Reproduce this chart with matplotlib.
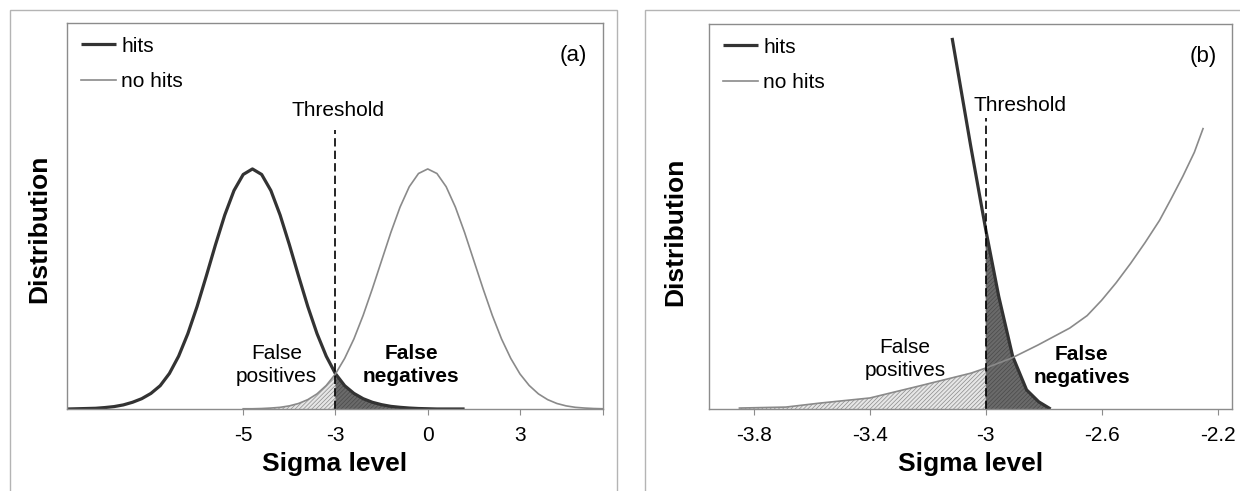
import matplotlib
matplotlib.use("Agg")
import matplotlib.pyplot as plt
from matplotlib.patches import Rectangle
import numpy as np

plt.rcParams['font.family'] = ['Liberation Sans', 'DejaVu Sans']
plt.rcParams['hatch.linewidth'] = 0.5

# ---- panel (a): category-style axis, one unit per labelled tick ----
hits_a_pos = [-1.9, -1.8, -1.7, -1.6, -1.5, -1.4, -1.3, -1.2, -1.1, -1.0,
              -0.9, -0.8, -0.7, -0.6, -0.5, -0.4, -0.3, -0.2, -0.1, 0.0,
              0.1, 0.2, 0.3, 0.4, 0.5, 0.6, 0.7, 0.8, 0.9, 1.0,
              1.1, 1.2, 1.3, 1.4, 1.5, 1.6, 1.7, 1.8, 1.9, 2.0,
              2.1, 2.2, 2.3, 2.4]
hits_a = [0.000, 0.001, 0.002, 0.003, 0.006, 0.010, 0.017, 0.028, 0.043, 0.065,
          0.097, 0.148, 0.220, 0.314, 0.427, 0.554, 0.685, 0.808, 0.910, 0.977,
          1.000, 0.977, 0.910, 0.808, 0.685, 0.554, 0.427, 0.314, 0.220, 0.147,
          0.097, 0.065, 0.043, 0.028, 0.018, 0.011, 0.007, 0.004, 0.002, 0.001,
          0.000, 0.000, 0.000, 0.000]

nohits_a_pos = [0.0, 0.1, 0.2, 0.3, 0.4, 0.5, 0.6, 0.7, 0.8, 0.9,
                1.0, 1.1, 1.2, 1.3, 1.4, 1.5, 1.6, 1.7, 1.8, 1.9,
                2.0, 2.1, 2.2, 2.3, 2.4, 2.5, 2.6, 2.7, 2.8, 2.9,
                3.0, 3.1, 3.2, 3.3, 3.4, 3.5, 3.6, 3.7, 3.8, 3.9]
nohits_a = [0.001, 0.001, 0.002, 0.004, 0.007, 0.013, 0.023, 0.039, 0.063, 0.098,
            0.146, 0.211, 0.292, 0.390, 0.501, 0.618, 0.735, 0.841, 0.926, 0.981,
            1.000, 0.981, 0.926, 0.841, 0.735, 0.618, 0.501, 0.390, 0.292, 0.211,
            0.146, 0.098, 0.063, 0.039, 0.023, 0.013, 0.007, 0.004, 0.002, 0.001]

ticks_a = [0, 1, 2, 3, 3.9]
tick_labels_a = ['-5', '-3', '0', '3', '']
threshold_a = 1.0

# ---- panel (b): zoom around the threshold ----
hits_b_x = [-3.116, -3.079, -3.052, -3.0, -2.955, -2.907, -2.859, -2.817, -2.776]
hits_b = [1.55, 1.29, 1.10, 0.75, 0.47, 0.22, 0.08, 0.03, 0.0]

nohits_b_x = [-3.85, -3.69, -3.57, -3.40, -3.23, -3.05, -3.00, -2.91, -2.82,
              -2.71, -2.65, -2.60, -2.55, -2.50, -2.45, -2.40, -2.36, -2.32,
              -2.28, -2.25]
nohits_b = [0.004, 0.008, 0.025, 0.046, 0.096, 0.150, 0.171, 0.213, 0.267,
            0.338, 0.390, 0.454, 0.527, 0.608, 0.695, 0.788, 0.878, 0.971,
            1.072, 1.171]

ticks_b = [-3.8, -3.4, -3.0, -2.6, -2.2]
tick_labels_b = ['-3.8', '-3.4', '-3', '-2.6', '-2.2']
threshold_b = -3.0

HITS_C = '#333333'
NOHITS_C = '#8a8a8a'
SPINE_C = '#8c8c8c'


def draw_panel(ax, hx, hy, nx, ny, thr, thr_top, ticks, labels, xlim, tag,
               thr_text_xy, fp_xy, fn_xy, ylab_xy):
    hx, hy, nx, ny = map(np.asarray, (hx, hy, nx, ny))
    ax.fill_between(nx, ny, where=nx <= thr + 1e-9, facecolor='#e6e6e6',
                    edgecolor='#8a8a8a', hatch='////////', linewidth=0)
    ax.fill_between(hx, hy, where=hx >= thr - 1e-9, facecolor='#6a6a6a',
                    edgecolor='#4a4a4a', hatch='////////', linewidth=0)
    ax.plot(hx, hy, color=HITS_C, lw=2.3, label='hits', solid_capstyle='butt')
    ax.plot(nx, ny, color=NOHITS_C, lw=1.2, label='no hits')
    ax.plot([thr, thr], [0, thr_top], color='black', lw=1.2,
            linestyle=(0, (5, 2.5)))

    ax.set_xlim(*xlim)
    ax.set_ylim(0, 1.608)
    ax.set_xticks(ticks)
    ax.set_xticklabels(labels)
    ax.set_yticks([])
    ax.tick_params(axis='x', direction='out', length=4, color=SPINE_C,
                   labelsize=15, pad=8)
    for s in ax.spines.values():
        s.set_color(SPINE_C)
        s.set_linewidth(1.0)

    ax.set_xlabel('Sigma level', fontsize=19, fontweight='bold', labelpad=5)
    ax.set_ylabel('Distribution', fontsize=19, fontweight='bold', va='center')
    ax.yaxis.set_label_coords(*ylab_xy)

    ax.text(thr_text_xy[0], thr_text_xy[1], 'Threshold', fontsize=15,
            ha='center', va='center')
    ax.text(fp_xy[0], fp_xy[1], 'False\npositives', fontsize=15,
            ha='center', va='center', linespacing=1.25)
    ax.text(fn_xy[0], fn_xy[1], 'False\nnegatives', fontsize=15,
            fontweight='bold', ha='center', va='center', linespacing=1.25)
    ax.text(0.945, 0.915, tag, transform=ax.transAxes, fontsize=16,
            ha='center', va='center')

    ax.legend(loc='upper left', frameon=False, fontsize=15, handlelength=1.7,
              handletextpad=0.25, labelspacing=0.8, borderaxespad=0.25,
              bbox_to_anchor=(0.0, 1.0))


fig = plt.figure(figsize=(12.4, 4.91), dpi=100)
ax_a = fig.add_axes([67 / 1240, 1 - 409 / 491, 536 / 1240, 386 / 491])
ax_b = fig.add_axes([709 / 1240, 1 - 409 / 491, 523 / 1240, 385 / 491])

draw_panel(ax_a, hits_a_pos, hits_a, nohits_a_pos, nohits_a, threshold_a, 1.163,
           ticks_a, tick_labels_a, (-1.91, 3.90), '(a)',
           (1.03, 1.245), (0.36, 0.183), (1.82, 0.183), (-0.052, 0.466))
draw_panel(ax_b, hits_b_x, hits_b, nohits_b_x, nohits_b, threshold_b, 1.217,
           ticks_b, tick_labels_b, (-3.955, -2.15), '(b)',
           (-2.88, 1.267), (-3.279, 0.21), (-2.668, 0.18), (-0.065, 0.461))

# light outer frames around each panel
for x0, x1 in [(10, 617), (645, 1260)]:
    fig.patches.append(Rectangle((x0 / 1240, -0.05), (x1 - x0) / 1240,
                                 1.05 - 10 / 491, transform=fig.transFigure,
                                 fill=False, edgecolor='#b4b4b4', lw=1.0))

fig.savefig('out.png', dpi=100)
